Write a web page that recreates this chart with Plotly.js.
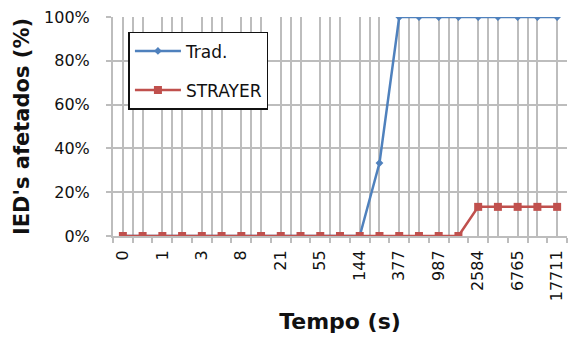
<!DOCTYPE html>
<html>
<head>
<meta charset="utf-8">
<script src="https://cdn.plot.ly/plotly-3.0.1.min.js"></script>
<style>html,body{margin:0;padding:0;background:#fff;}#chart{width:568px;height:340px;}</style>
</head>
<body>
<div id="chart"></div>
<script>
// Time values (s): Fibonacci steps
const tempo = ["0","1","1","2","3","5","8","13","21","34","55","89","144","233","377","610","987","1597","2584","4181","6765","10946","17711"];
const tickLabels = ["0","","1","","3","","8","","21","","55","","144","","377","","987","","2584","","6765","","17711"];
const trad = [0,0,0,0,0,0,0,0,0,0,0,0,0,0.333,1,1,1,1,1,1,1,1,1];
const strayer = [0,0,0,0,0,0,0,0,0,0,0,0,0,0,0,0,0,0,0.133,0.133,0.133,0.133,0.133];

const idx = tempo.map((_, i) => i);
// gridlines: every category centre plus the boundary after every even category
const gridVals = [], gridText = [];
idx.forEach(i => {
  gridVals.push(i); gridText.push(tickLabels[i]);
  if (i % 2 === 0) { gridVals.push(i + 0.5); gridText.push(''); }
});

const gridColor = '#bdbdbd';
const font = 'DejaVu Sans, Verdana, sans-serif';

const data = [
  {x: idx, y: trad, name: 'Trad.', type: 'scatter', mode: 'lines+markers',
   line: {color: '#4F81BD', width: 2.5}, marker: {symbol: 'diamond', size: 6, color: '#4F81BD'},
   legendgroup: 'a'},
  {x: idx, y: strayer, name: 'STRAYER', type: 'scatter', mode: 'lines+markers',
   line: {color: '#C0504D', width: 2.5}, marker: {symbol: 'square', size: 8, color: '#C0504D'},
   legendgroup: 'b'}
];

const layout = {
  width: 568, height: 340,
  margin: {l: 113, r: 1, t: 17, b: 104},
  paper_bgcolor: '#fff', plot_bgcolor: '#fff',
  font: {family: font, size: 16, color: '#222'},
  showlegend: true,
  legend: {x: 0.034, y: 0.932, xanchor: 'left', yanchor: 'top',
    bordercolor: '#111', borderwidth: 1.5, bgcolor: '#fff',
    font: {family: font, size: 17, color: '#111'},
    traceorder: 'grouped', tracegroupgap: 14, itemwidth: 46},
  xaxis: {
    range: [-0.5, 22.5], tickmode: 'array', tickvals: gridVals, ticktext: gridText,
    tickangle: -90, ticks: '', showgrid: true, gridcolor: gridColor, gridwidth: 2,
    showline: true, linecolor: gridColor, linewidth: 2, zeroline: false,
    tickfont: {family: font, size: 16, color: '#111'}, ticklabelstandoff: 6,
    minor: {tickmode: 'linear', tick0: -0.5, dtick: 1, ticks: 'outside', ticklen: 5,
            tickcolor: gridColor, tickwidth: 2, showgrid: false},
    title: {text: 'Tempo (s)', font: {family: font, size: 22, color: '#111', weight: 'bold'}, standoff: 13}
  },
  yaxis: {
    range: [0, 1], tickmode: 'array', tickvals: [0, 0.2, 0.4, 0.6, 0.8, 1],
    tickformat: '.0%', ticks: 'outside', ticklen: 5, tickcolor: gridColor, tickwidth: 2,
    showgrid: true, gridcolor: gridColor, gridwidth: 2, zeroline: false,
    showline: true, linecolor: gridColor, linewidth: 2,
    tickfont: {family: font, size: 16, color: '#111'}, ticklabelstandoff: 13,
    title: {text: "IED's afetados (%)", font: {family: font, size: 21, color: '#111', weight: 'bold'}, standoff: 9}
  }
};

Plotly.newPlot('chart', data, layout, {displayModeBar: false, staticPlot: true});
</script>
</body>
</html>
